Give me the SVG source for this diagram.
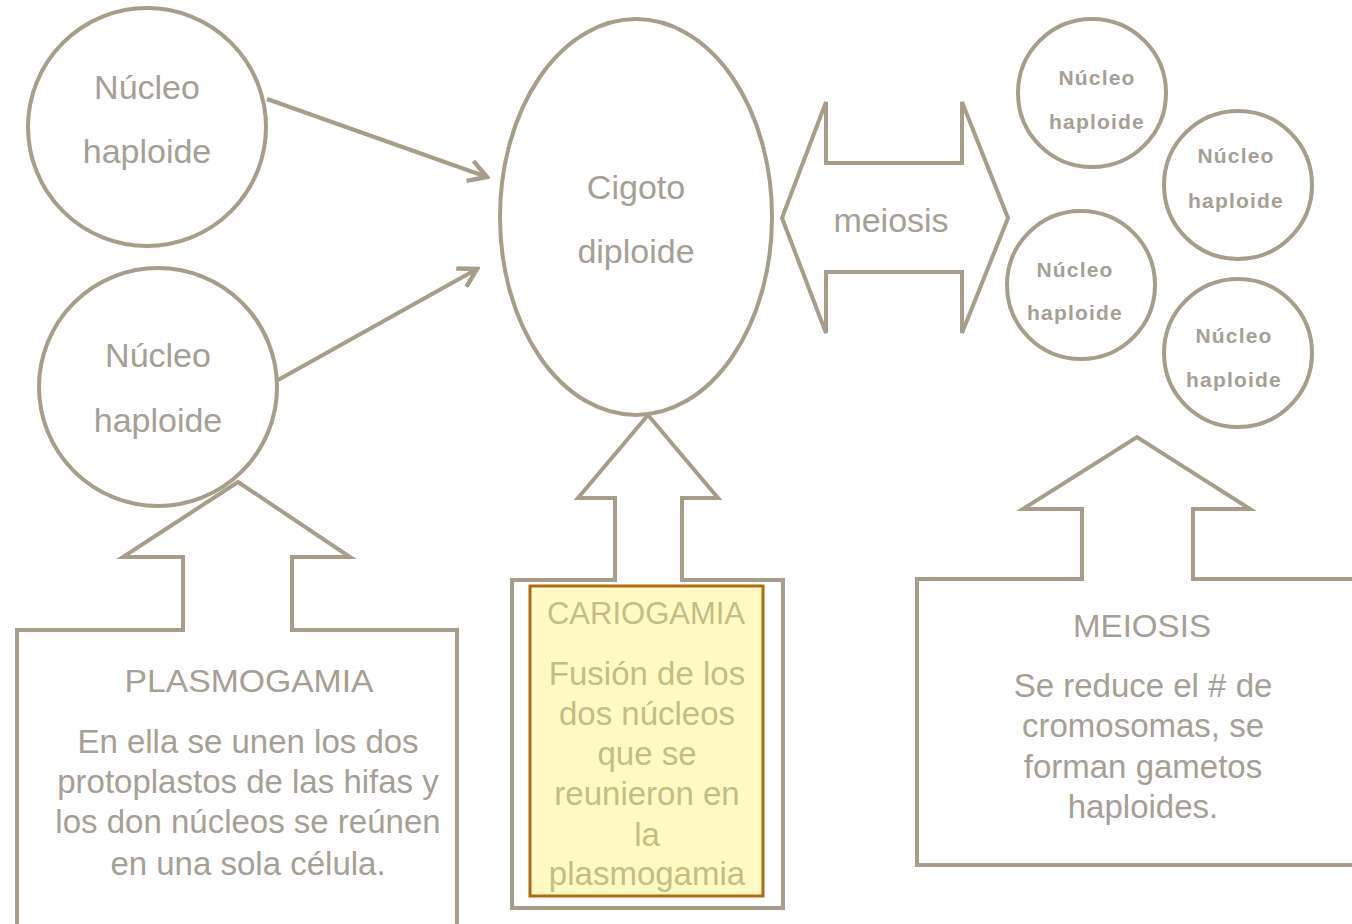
<svg xmlns="http://www.w3.org/2000/svg" width="1352" height="924" viewBox="0 0 1352 924">
<defs>
<marker id="chev" markerUnits="userSpaceOnUse" markerWidth="24" markerHeight="24" refX="14" refY="8" orient="auto" viewBox="0 0 16 16">
<path d="M2,1 L14,8 L2,15" fill="none" stroke="#a69d8a" stroke-width="3"/>
</marker>
<style>
.shape{fill:none;stroke:#a69d8a;stroke-width:4;stroke-linejoin:miter}
.big{font-family:"Liberation Sans",Arial,sans-serif;font-size:34px;fill:#a5a095;text-anchor:middle}
.small{font-family:"Liberation Sans",Arial,sans-serif;font-size:21px;font-weight:bold;letter-spacing:1.2px;fill:#a5a095;text-anchor:middle}
.head{font-family:"Liberation Sans",Arial,sans-serif;font-size:31px;fill:#a5a095;text-anchor:middle}
.body{font-family:"Liberation Sans",Arial,sans-serif;font-size:33px;fill:#a5a095;text-anchor:middle}
.yl{fill:#c5bd85}
</style>
</defs>
<rect width="1352" height="924" fill="#ffffff"/>

<g id="connectors">
<line x1="267" y1="99" x2="487" y2="177" class="shape" marker-end="url(#chev)"/>
<line x1="278" y1="380" x2="477" y2="269" class="shape" marker-end="url(#chev)"/>
<g id="double-arrow">
<path class="shape" d="M782,218 L826,102 L826,163 L962,163 L962,102 L1008,218 L962,333 L962,272 L826,272 L826,333 Z"/>
<text class="big" x="891" y="232">meiosis</text>
</g>
</g>

<g id="nucleo1">
<circle class="shape" cx="147" cy="127" r="119"/>
<text class="big" x="147" y="99">Núcleo</text>
<text class="big" x="147" y="163">haploide</text>
</g>
<g id="nucleo2">
<circle class="shape" cx="158" cy="387" r="119"/>
<text class="big" x="158" y="367">Núcleo</text>
<text class="big" x="158" y="432">haploide</text>
</g>
<g id="cigoto">
<ellipse class="shape" cx="636" cy="217" rx="136" ry="198"/>
<text class="big" x="636" y="199">Cigoto</text>
<text class="big" x="636" y="263">diploide</text>
</g>
<g id="nucleo3">
<circle class="shape" cx="1092" cy="93" r="74"/>
<text class="small" x="1097" y="85">Núcleo</text>
<text class="small" x="1097" y="129">haploide</text>
</g>
<g id="nucleo4">
<circle class="shape" cx="1238" cy="185" r="74"/>
<text class="small" x="1236" y="163">Núcleo</text>
<text class="small" x="1236" y="208">haploide</text>
</g>
<g id="nucleo5">
<circle class="shape" cx="1081" cy="285" r="74"/>
<text class="small" x="1075" y="277">Núcleo</text>
<text class="small" x="1075" y="320">haploide</text>
</g>
<g id="nucleo6">
<circle class="shape" cx="1238" cy="353" r="74"/>
<text class="small" x="1234" y="343">Núcleo</text>
<text class="small" x="1234" y="387">haploide</text>
</g>

<g id="plasmogamia">
<path class="shape" d="M17,930 L17,630 L183,630 L183,557 L123,557 L238,482 L350,557 L292,557 L292,630 L457,630 L457,930"/>
<text class="head" x="249" y="692" textLength="249" lengthAdjust="spacingAndGlyphs">PLASMOGAMIA</text>
<text class="body" x="248" y="753">En ella se unen los dos</text>
<text class="body" x="248" y="793">protoplastos de las hifas y</text>
<text class="body" x="248" y="833">los don núcleos se reúnen</text>
<text class="body" x="248" y="875">en una sola célula.</text>
</g>

<g id="cariogamia">
<path class="shape" d="M512,908 L512,580 L615,580 L615,498 L578,498 L648,415 L718,498 L682,498 L682,580 L783,580 L783,908 Z"/>
<rect x="530" y="586" width="233" height="310" fill="#fffac4" stroke="#b06a12" stroke-width="3"/>
<text class="head yl" x="646" y="624" font-size="32">CARIOGAMIA</text>
<text class="body yl" x="647" y="685">Fusión de los</text>
<text class="body yl" x="647" y="725">dos núcleos</text>
<text class="body yl" x="647" y="765">que se</text>
<text class="body yl" x="647" y="805">reunieron en</text>
<text class="body yl" x="647" y="846">la</text>
<text class="body yl" x="647" y="885">plasmogamia</text>
</g>

<g id="meiosis">
<path class="shape" d="M1360,579 L1193,579 L1193,509 L1250,509 L1137,437 L1023,509 L1082,509 L1082,579 L917,579 L917,865 L1360,865"/>
<text class="head" x="1142" y="637" textLength="138" lengthAdjust="spacingAndGlyphs">MEIOSIS</text>
<text class="body" x="1143" y="697">Se reduce el # de</text>
<text class="body" x="1143" y="737">cromosomas, se</text>
<text class="body" x="1143" y="778">forman gametos</text>
<text class="body" x="1143" y="818">haploides.</text>
</g>
</svg>
